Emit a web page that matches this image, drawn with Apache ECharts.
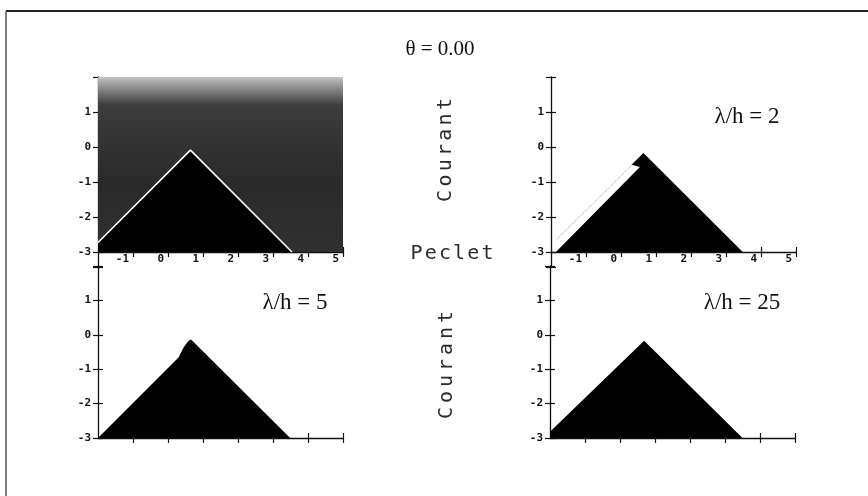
<!DOCTYPE html>
<html>
<head>
<meta charset="utf-8">
<script src="https://cdn.jsdelivr.net/npm/echarts@6/dist/echarts.min.js"></script>
<style>
  html, body { margin: 0; padding: 0; background: #fff; }
  #chart { width: 868px; height: 496px; }
</style>
</head>
<body>
<div id="chart"></div>
<script>
// Stability regions in the (log Peclet, log Courant) plane for theta = 0.00
const xTicks = [-1, 0, 1, 2, 3, 4, 5];
const yTicks = [-3, -2, -1, 0, 1];
const xMin = -2, xMax = 5;
const yMax = 2, yBase = -3;
const yMinTop = -3.43;           // top panels: Courant axis runs slightly below the Peclet axis

// Shaded region behind the first panel (whole plotted range)
const shade0 = [[-2, 2], [5, 2]];
// Stable region boundaries (upper edge; closed along log Courant = -3)
const edge0 = [[-2, -2.73], [0.64, -0.09], [3.54, -3]];
const edge2 = [[-1.86, -3], [0.54, -0.57], [0.30, -0.51], [0.64, -0.17], [3.48, -3]];
const dotted2 = [[-1.84, -2.64], [0.30, -0.53]];
const edge5 = [[-2, -3], [0.30, -0.66], [0.45, -0.36], [0.58, -0.18], [0.66, -0.14], [3.49, -3]];
const edge25 = [[-2, -2.82], [0.69, -0.17], [3.50, -3]];

const tickFont = { fontFamily: 'DejaVu Sans Mono', fontSize: 11, fontWeight: 'bold', color: '#111' };

const grids = [
  { left: 98, top: 77, width: 245, height: 190 },
  { left: 551, top: 77, width: 245, height: 190 },
  { left: 98, top: 266, width: 245, height: 172 },
  { left: 550, top: 266, width: 245, height: 172 }
];

const xAxes = [], yAxes = [];
grids.forEach((g, i) => {
  const top = i < 2;
  const yMin = top ? yMinTop : yBase;
  const off = top ? -Math.round(g.height * (yBase - yMinTop) / (yMax - yMinTop)) : 0;
  const base = {
    gridIndex: i, type: 'value', min: xMin, max: xMax, position: 'bottom', offset: off,
    splitLine: { show: false }
  };
  // outward ticks + labels
  xAxes.push(Object.assign({}, base, {
    axisLine: { show: true, onZero: false, lineStyle: { color: '#111', width: 1.3 } },
    axisTick: { show: true, length: 5, customValues: xTicks, lineStyle: { color: '#111', width: 1.2 } },
    axisLabel: Object.assign({ show: top, customValues: xTicks, align: 'right', margin: 2,
      padding: [0, 4, 0, 0] }, tickFont)
  }));
  // inward ticks (second half of each cross)
  xAxes.push(Object.assign({}, base, {
    axisLine: { show: false, onZero: false },
    axisTick: { show: true, inside: true, length: 5, customValues: xTicks, lineStyle: { color: '#111', width: 1.2 } },
    axisLabel: { show: false }
  }));
  const yTickVals = top ? [yMinTop, -3, -2, -1, 0, 1, 2] : [-3, -2, -1, 0, 1, 2];
  const ybase = { gridIndex: i, type: 'value', min: yMin, max: yMax, position: 'left', splitLine: { show: false } };
  yAxes.push(Object.assign({}, ybase, {
    axisLine: { show: true, onZero: false, lineStyle: { color: '#111', width: 1.3 } },
    axisTick: { show: true, length: 5, customValues: yTickVals, lineStyle: { color: '#111', width: 1.2 } },
    axisLabel: Object.assign({ customValues: yTicks, margin: 7 }, tickFont)
  }));
  yAxes.push(Object.assign({}, ybase, {
    axisLine: { show: false, onZero: false },
    axisTick: { show: true, inside: true, length: 5, customValues: yTickVals, lineStyle: { color: '#111', width: 1.2 } },
    axisLabel: { show: false }
  }));
});

// Filled polygon bounded by a boundary line and the log Courant = -3 base
function region(points, panel, fill, z) {
  return {
    type: 'custom', xAxisIndex: panel * 2, yAxisIndex: panel * 2, z: z || 2,
    silent: true, clip: false,
    data: points,
    renderItem: (params, api) => {
      if (params.dataIndex !== 0) return null;
      const pts = points.map(p => api.coord(p));
      const first = points[0], last = points[points.length - 1];
      pts.push(api.coord([last[0], yBase]));
      pts.push(api.coord([first[0], yBase]));
      return { type: 'polygon', shape: { points: pts }, style: { fill: fill } };
    }
  };
}

function line(points, panel, style, z) {
  return {
    type: 'line', xAxisIndex: panel * 2, yAxisIndex: panel * 2, z: z || 3,
    data: points, showSymbol: false, silent: true, lineStyle: style
  };
}

const shadeFill = new echarts.graphic.LinearGradient(0, 0, 0, 1, [
  { offset: 0, color: '#c4c4c4' },
  { offset: 0.06, color: '#8e8e8e' },
  { offset: 0.16, color: '#3c3c3c' },
  { offset: 0.6, color: '#2a2a2a' },
  { offset: 1, color: '#303030' }
]);

const series = [
  region(shade0, 0, shadeFill, 1),
  region(edge0, 0, '#000', 2),
  line(edge0, 0, { color: '#fff', width: 1.6 }, 3),
  region(edge2, 1, '#000', 2),
  line(dotted2, 1, { color: '#9a9a9a', width: 1, type: 'dotted' }, 3),
  region(edge5, 2, '#000', 2),
  region(edge25, 3, '#000', 2)
];

// Letter-by-letter label in the plotter style (wide letter pitch)
function spaced(str, x, y, step, vertical) {
  const n = str.length;
  return str.split('').map((ch, k) => {
    const d = (k - (n - 1) / 2) * step;
    return {
      type: 'text',
      x: vertical ? x : x + d,
      y: vertical ? y - d : y,
      rotation: vertical ? Math.PI / 2 : 0,
      style: { text: ch, fontFamily: 'DejaVu Sans Mono', fontSize: 20, fill: '#2a2a2a',
        align: 'center', verticalAlign: 'middle' }
    };
  });
}

const serif = { fontFamily: 'Liberation Serif', fill: '#111', align: 'center', verticalAlign: 'middle' };
const graphic = [
  { type: 'line', shape: { x1: 6, y1: 11, x2: 868, y2: 11 }, style: { stroke: '#222', lineWidth: 2 } },
  { type: 'line', shape: { x1: 6, y1: 11, x2: 6, y2: 496 }, style: { stroke: '#555', lineWidth: 1.5 } },
  { type: 'text', x: 440, y: 49, style: Object.assign({ text: 'θ = 0.00', fontSize: 21 }, serif) },
  { type: 'text', x: 747, y: 117, style: Object.assign({ text: 'λ/h = 2', fontSize: 23 }, serif) },
  { type: 'text', x: 295, y: 303, style: Object.assign({ text: 'λ/h = 5', fontSize: 23 }, serif) },
  { type: 'text', x: 742, y: 303, style: Object.assign({ text: 'λ/h = 25', fontSize: 23 }, serif) }
].concat(
  spaced('Courant', 446, 150, 15.3, true),
  spaced('Peclet', 452, 254, 14.2, false),
  spaced('Courant', 447, 365, 16, true)
);

const chart = echarts.init(document.getElementById('chart'), null, { renderer: 'canvas' });
chart.setOption({
  backgroundColor: '#fff',
  animation: false,
  grid: grids,
  xAxis: xAxes,
  yAxis: yAxes,
  series: series,
  graphic: graphic
});
</script>
</body>
</html>
